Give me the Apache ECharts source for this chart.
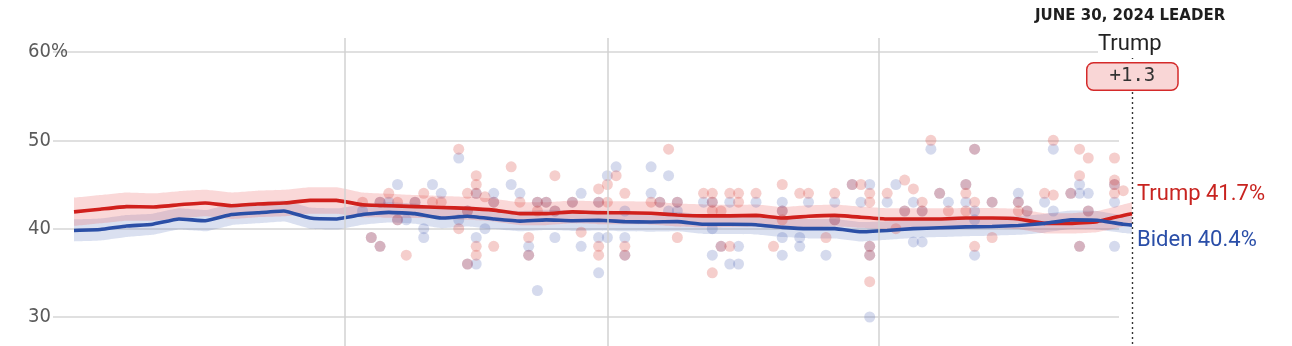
<!DOCTYPE html>
<html>
<head>
<meta charset="utf-8">
<script src="https://cdn.jsdelivr.net/npm/echarts@6/dist/echarts.min.js"></script>
<style>
html,body{margin:0;padding:0;background:#fff;}
#chart{width:1292px;height:346px;}
</style>
</head>
<body>
<div id="chart"></div>
<script>
// ---- DATA ----
const startDate = '2024-03-01';
const endDate = '2024-06-30';
const monthStarts = ['2024-04-01', '2024-05-01', '2024-06-01'];
const yTicks = [30, 40, 50, 60];

const trendDates = ['2024-03-01','2024-03-04','2024-03-07','2024-03-10','2024-03-13','2024-03-16','2024-03-19','2024-03-22','2024-03-25','2024-03-28','2024-03-31',
  '2024-04-03','2024-04-06','2024-04-09','2024-04-12','2024-04-15','2024-04-18','2024-04-21','2024-04-24','2024-04-27','2024-04-30',
  '2024-05-03','2024-05-06','2024-05-09','2024-05-12','2024-05-15','2024-05-18','2024-05-21','2024-05-24','2024-05-27','2024-05-30',
  '2024-06-02','2024-06-05','2024-06-08','2024-06-11','2024-06-14','2024-06-17','2024-06-20','2024-06-23','2024-06-26','2024-06-29','2024-06-30'];

const trumpTrend = [41.9,42.2,42.5,42.45,42.7,42.9,42.6,42.8,42.9,43.2,43.2,
  42.7,42.6,42.5,42.4,42.3,42.1,41.7,41.7,41.9,41.8,
  41.8,41.75,41.55,41.45,41.45,41.5,41.2,41.4,41.5,41.3,
  41.1,41.1,41.1,41.2,41.2,41.1,40.6,40.6,40.8,41.5,41.7];
const bidenTrend = [39.8,39.9,40.3,40.5,41.1,40.9,41.6,41.8,42.0,41.2,41.1,
  41.6,41.85,41.7,41.2,41.4,41.1,40.85,41.0,40.9,40.95,
  40.8,40.75,40.8,40.5,40.5,40.45,40.15,40.0,40.0,39.65,
  39.8,40.0,40.1,40.2,40.25,40.35,40.6,41.0,40.95,40.5,40.4];

// half-width of the shaded uncertainty band
const trumpBand = [1.6,1.6,1.6,1.55,1.55,1.5,1.5,1.5,1.5,1.5,1.5,
  1.4,1.35,1.3,1.3,1.3,1.3,1.3,1.3,1.3,1.3,
  1.3,1.3,1.3,1.3,1.25,1.25,1.25,1.25,1.25,1.2,
  1.2,1.2,1.2,1.15,1.15,1.15,1.15,1.15,1.2,1.25,1.3];
const bidenBand = [1.25,1.25,1.25,1.2,1.2,1.2,1.2,1.2,1.2,1.2,1.2,
  1.15,1.15,1.15,1.15,1.15,1.15,1.15,1.15,1.15,1.15,
  1.1,1.1,1.1,1.1,1.1,1.1,1.1,1.1,1.1,1.1,
  1.05,1.05,1.05,1.05,1.05,1.05,1.05,1.05,1.05,1.0,1.0];

const trumpPolls = [
  ['2024-04-03',43],['2024-04-04',39],['2024-04-05',38],['2024-04-05',43],['2024-04-06',44],
  ['2024-04-07',43],['2024-04-07',41],['2024-04-08',37],['2024-04-09',43],['2024-04-10',44],
  ['2024-04-11',43],['2024-04-12',43],['2024-04-14',49],['2024-04-14',40],['2024-04-15',44],
  ['2024-04-15',42],['2024-04-15',36],['2024-04-16',46],['2024-04-16',45],['2024-04-16',44],
  ['2024-04-16',38],['2024-04-16',37],['2024-04-17',43.6],['2024-04-18',43],['2024-04-18',38],
  ['2024-04-20',47],['2024-04-21',43],['2024-04-22',39],['2024-04-22',37],['2024-04-23',43],
  ['2024-04-23',42],['2024-04-24',43],['2024-04-25',46],['2024-04-25',42],['2024-04-27',43],
  ['2024-04-28',39.6],['2024-04-30',44.5],['2024-04-30',43],['2024-04-30',38],['2024-04-30',37],
  ['2024-05-01',45],['2024-05-01',43],['2024-05-02',46],['2024-05-03',44],['2024-05-03',38],
  ['2024-05-03',37],['2024-05-06',43],['2024-05-07',43],['2024-05-08',49],['2024-05-09',43],
  ['2024-05-09',39],['2024-05-12',44],['2024-05-13',44],['2024-05-13',43],['2024-05-13',42],
  ['2024-05-13',35],['2024-05-14',42],['2024-05-14',38],['2024-05-15',44],['2024-05-15',38],
  ['2024-05-16',44],['2024-05-16',43],['2024-05-18',44],['2024-05-20',38],['2024-05-21',45],
  ['2024-05-21',42],['2024-05-21',41],['2024-05-23',44],['2024-05-24',44],['2024-05-26',39],
  ['2024-05-27',44],['2024-05-27',41],['2024-05-29',45],['2024-05-30',45],['2024-05-31',44],
  ['2024-05-31',43],['2024-05-31',38],['2024-05-31',37],['2024-05-31',34],['2024-06-02',44],
  ['2024-06-03',40],['2024-06-04',45.5],['2024-06-04',42],['2024-06-05',44.5],['2024-06-06',43],
  ['2024-06-06',42],['2024-06-07',50],['2024-06-08',44],['2024-06-09',42],['2024-06-11',45],
  ['2024-06-11',44],['2024-06-11',42],['2024-06-12',49],['2024-06-12',43],['2024-06-12',38],
  ['2024-06-14',43],['2024-06-14',39],['2024-06-17',43],['2024-06-17',42],['2024-06-18',42],
  ['2024-06-20',44],['2024-06-21',50],['2024-06-21',43.8],['2024-06-23',44],['2024-06-24',49],
  ['2024-06-24',46],['2024-06-24',38],['2024-06-25',48],['2024-06-25',42],['2024-06-28',48],
  ['2024-06-28',45.5],['2024-06-28',45],['2024-06-28',44],['2024-06-29',44.3]
];
const bidenPolls = [
  ['2024-04-03',42],['2024-04-04',39],['2024-04-05',38],['2024-04-05',43],['2024-04-06',43],
  ['2024-04-07',45],['2024-04-07',41],['2024-04-08',41],['2024-04-09',43],['2024-04-10',40],
  ['2024-04-10',39],['2024-04-11',45],['2024-04-12',44],['2024-04-14',48],['2024-04-14',41],
  ['2024-04-15',42],['2024-04-15',36],['2024-04-16',44],['2024-04-16',39],['2024-04-16',36],
  ['2024-04-17',40],['2024-04-18',44],['2024-04-18',43],['2024-04-20',45],['2024-04-21',44],
  ['2024-04-22',38],['2024-04-22',37],['2024-04-23',43],['2024-04-23',33],['2024-04-24',43],
  ['2024-04-25',42],['2024-04-25',39],['2024-04-27',43],['2024-04-28',44],['2024-04-28',38],
  ['2024-04-30',43],['2024-04-30',39],['2024-04-30',35],['2024-05-01',46],['2024-05-01',39],
  ['2024-05-02',47],['2024-05-03',42],['2024-05-03',39],['2024-05-03',37],['2024-05-06',47],
  ['2024-05-06',44],['2024-05-07',43],['2024-05-08',46],['2024-05-08',42],['2024-05-09',43],
  ['2024-05-09',42],['2024-05-12',43],['2024-05-13',43],['2024-05-13',40],['2024-05-13',37],
  ['2024-05-14',38],['2024-05-15',43],['2024-05-15',36],['2024-05-16',38],['2024-05-16',36],
  ['2024-05-18',43],['2024-05-21',43],['2024-05-21',42],['2024-05-21',39],['2024-05-21',37],
  ['2024-05-23',39],['2024-05-23',38],['2024-05-24',43],['2024-05-26',37],['2024-05-27',43],
  ['2024-05-27',41],['2024-05-29',45],['2024-05-30',43],['2024-05-31',45],['2024-05-31',38],
  ['2024-05-31',37],['2024-05-31',30],['2024-06-02',43],['2024-06-03',45],['2024-06-04',42],
  ['2024-06-05',43],['2024-06-05',38.5],['2024-06-06',42],['2024-06-06',38.5],['2024-06-07',49],
  ['2024-06-08',44],['2024-06-09',43],['2024-06-11',45],['2024-06-11',43],['2024-06-12',49],
  ['2024-06-12',42],['2024-06-12',41],['2024-06-12',37],['2024-06-14',43],['2024-06-17',44],
  ['2024-06-17',43],['2024-06-18',42],['2024-06-20',43],['2024-06-21',49],['2024-06-21',42],
  ['2024-06-23',44],['2024-06-24',45],['2024-06-24',44],['2024-06-24',38],['2024-06-25',44],
  ['2024-06-25',42],['2024-06-28',45],['2024-06-28',43],['2024-06-28',38]
];

const leaderDateLabel = 'JUNE 30, 2024 LEADER';
const leaderName = 'Trump';
const leaderMargin = '+1.3';

// ---- BUILD ----
const pairs = (vals) => trendDates.map((d, i) => [d, vals[i]]);
const lowOf = (vals, band) => trendDates.map((d, i) => [d, +(vals[i] - band[i]).toFixed(2)]);
const widthOf = (band) => trendDates.map((d, i) => [d, +(2 * band[i]).toFixed(2)]);
const last = (a) => a[a.length - 1];

const RED = '#d0201c';
const BLUE = '#2b4fa6';

const chart = echarts.init(document.getElementById('chart'), null, {renderer: 'canvas'});

const bandSeries = (name, vals, band, color, stack) => [
  {
    name: name + 'Low', type: 'line', xAxisIndex: 0, yAxisIndex: 0, stack: stack,
    data: lowOf(vals, band), symbol: 'none', silent: true, smooth: 0.1,
    lineStyle: {opacity: 0}, z: 1
  },
  {
    name: name + 'Band', type: 'line', xAxisIndex: 0, yAxisIndex: 0, stack: stack,
    data: widthOf(band), symbol: 'none', silent: true, smooth: 0.1,
    lineStyle: {opacity: 0}, areaStyle: {color: color, opacity: 1}, z: 1
  }
];

const option = {
  animation: false,
  grid: [
    {left: 74, right: 160, top: 52, bottom: 29},
    {left: 53, right: 173, top: 52, bottom: 29},
    {left: 74, right: 160, top: 38, bottom: 0}
  ],
  xAxis: [
    {gridIndex: 0, type: 'time', min: startDate, max: endDate, show: false},
    {gridIndex: 1, type: 'value', min: 0, max: 1, show: false},
    {gridIndex: 2, type: 'time', min: startDate, max: endDate, show: false}
  ],
  yAxis: [
    {gridIndex: 0, type: 'value', min: yTicks[0], max: last(yTicks), show: false},
    {
      gridIndex: 1, type: 'value', min: yTicks[0], max: last(yTicks), interval: 10,
      axisLine: {show: false}, axisTick: {show: false},
      splitLine: {show: true, lineStyle: {color: '#d6d6d6', width: 1.6}},
      axisLabel: {
        show: true, align: 'left', margin: 25,
        color: '#5b5b5b', fontSize: 20,
        fontFamily: '"Liberation Sans Narrow", "DejaVu Sans Condensed", sans-serif',
        formatter: (v) => v === last(yTicks) ? v + '%' : String(v)
      }
    },
    {gridIndex: 2, type: 'value', min: 0, max: 1, show: false}
  ],
  series: [
    {
      name: 'grid-v', type: 'line', xAxisIndex: 2, yAxisIndex: 2, data: [],
      symbol: 'none', silent: true,
      markLine: {
        silent: true, symbol: ['none', 'none'], label: {show: false},
        data: monthStarts.map(d => ({xAxis: d, lineStyle: {color: '#d2d2d2', width: 1.5, type: 'solid'}})).concat([
          [{coord: [endDate, 0.938], lineStyle: {color: '#333', width: 1.4, type: [2, 3]}}, {coord: [endDate, 0]}]
        ])
      }
    },
    {
      name: 'grid-h', type: 'line', xAxisIndex: 1, yAxisIndex: 1, data: [], symbol: 'none', silent: true
    },
    ...bandSeries('biden', bidenTrend, bidenBand, 'rgba(70,100,180,0.2)', 'bb'),
    ...bandSeries('trump', trumpTrend, trumpBand, 'rgba(235,90,90,0.24)', 'tb'),
    {
      name: 'Biden polls', type: 'scatter', xAxisIndex: 0, yAxisIndex: 0,
      data: bidenPolls, symbolSize: 11, silent: true,
      itemStyle: {color: 'rgba(60,85,170,0.27)'}, z: 2
    },
    {
      name: 'Trump polls', type: 'scatter', xAxisIndex: 0, yAxisIndex: 0,
      data: trumpPolls, symbolSize: 11, silent: true,
      itemStyle: {color: 'rgba(215,55,45,0.3)'}, z: 2
    },
    {
      name: 'Trump', type: 'line', xAxisIndex: 0, yAxisIndex: 0,
      data: pairs(trumpTrend), symbol: 'none', smooth: 0.1, z: 4,
      lineStyle: {color: RED, width: 3.6},
      endLabel: {
        show: true, distance: 5, offset: [0, -19],
        formatter: () => 'Trump ' + last(trumpTrend) + '%',
        color: '#c8231f', fontSize: 22, fontFamily: 'Roboto, sans-serif'
      }
    },
    {
      name: 'Biden', type: 'line', xAxisIndex: 0, yAxisIndex: 0,
      data: pairs(bidenTrend), symbol: 'none', smooth: 0.1, z: 4,
      lineStyle: {color: BLUE, width: 3.6},
      endLabel: {
        show: true, distance: 5, offset: [0, 15],
        formatter: () => 'Biden ' + last(bidenTrend) + '%',
        color: '#2a4ea8', fontSize: 22, fontFamily: 'Roboto, sans-serif'
      }
    }
  ],
  graphic: [
    {
      type: 'text', left: 1131 - 96, top: 9, z: 100,
      style: {text: leaderDateLabel, font: 'bold 15px "DejaVu Sans", sans-serif', fill: '#1e1e1e'}
    },
    {
      type: 'text', left: 1098, top: 33, z: 100,
      style: {text: leaderName, font: '22px Roboto, sans-serif', fill: '#222', backgroundColor: '#fff', padding: [0, 2, 3, 0]}
    },
    {
      type: 'text', left: 1086, top: 62, z: 100,
      style: {
        text: leaderMargin, font: '19px "DejaVu Sans Mono", monospace', fill: '#333',
        backgroundColor: '#f9d6d6', borderColor: '#d42a2a', borderWidth: 1.5, borderRadius: 6,
        padding: [3, 22, 3, 22], lineHeight: 20
      }
    }
  ]
};

chart.setOption(option);
</script>
</body>
</html>
